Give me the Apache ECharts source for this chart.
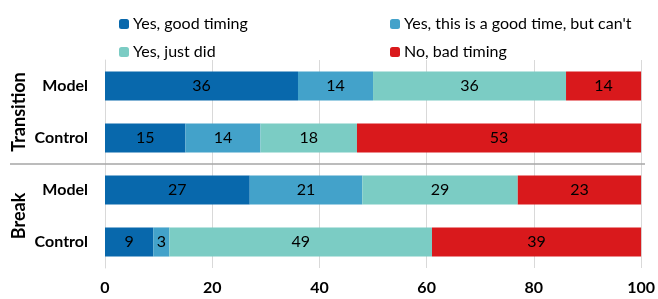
<!DOCTYPE html>
<html>
<head>
<meta charset="utf-8">
<script src="https://cdn.jsdelivr.net/npm/echarts@6/dist/echarts.min.js"></script>
<style>
  html, body { margin: 0; padding: 0; background: #fff; }
  #chart { width: 658px; height: 299px; }
</style>
</head>
<body>
<div id="chart"></div>
<script>
// rows top to bottom
const rows = ['Model', 'Control', 'Model', 'Control']
const groups = ['Transition', 'Break']
const seriesNames = ['Yes, good timing', "Yes, this is a good time, but can't", 'Yes, just did', 'No, bad timing']
const colors = ['#0868ac', '#43a2ca', '#7bccc4', '#d9191c']

// values per series, one per row
const goodTiming = [36, 15, 27, 9]
const goodButCant = [14, 14, 21, 3]
const justDid = [36, 18, 29, 49]
const badTiming = [14, 53, 23, 39]

const xTicks = [0, 20, 40, 60, 80, 100]

const font = 'Lato, "Open Sans", sans-serif'
const gridTop = 60
const gridHeight = 208

const chart = echarts.init(document.getElementById('chart'))

const values = [goodTiming, goodButCant, justDid, badTiming]

const option = {
  animation: false,
  textStyle: { fontFamily: font },
  legend: [
    {
      orient: 'vertical',
      left: 114, top: 11,
      itemWidth: 10, itemHeight: 10, itemGap: 12,
      data: [seriesNames[0], seriesNames[2]],
      textStyle: { fontSize: 16, color: '#000', fontFamily: font, padding: [0, 0, 0, -1] }
    },
    {
      orient: 'vertical',
      left: 385, top: 11,
      itemWidth: 10, itemHeight: 10, itemGap: 12,
      data: [seriesNames[1], seriesNames[3]],
      textStyle: { fontSize: 16, color: '#000', fontFamily: font, padding: [0, 0, 0, -1] }
    }
  ],
  grid: { left: 105, right: 15, top: gridTop, height: gridHeight },
  xAxis: {
    type: 'value',
    min: 0, max: 100, interval: 20,
    axisLine: { show: false },
    axisTick: { show: false },
    splitLine: { lineStyle: { color: '#d9d9d9', width: 1 } },
    axisLabel: {
      fontSize: 16, fontWeight: 'bold', color: '#000', margin: 12,
      formatter: v => xTicks.includes(v) ? String(v) : ''
    }
  },
  yAxis: [
    {
      type: 'category',
      inverse: true,
      data: rows,
      axisLine: { show: true, lineStyle: { color: '#d9d9d9' } },
      axisTick: { show: false },
      axisLabel: { fontSize: 16, fontWeight: 'bold', color: '#000', margin: 17 }
    },
    {
      type: 'category',
      inverse: true,
      position: 'left',
      data: groups,
      axisLine: { show: false },
      axisTick: { show: false },
      axisLabel: { fontSize: 18, fontWeight: 'bold', color: '#000', rotate: 90, margin: 77 }
    }
  ],
  series: seriesNames.map((name, i) => ({
    name,
    type: 'bar',
    stack: 'total',
    yAxisIndex: 0,
    barCategoryGap: '44%',
    itemStyle: { color: colors[i] },
    label: { show: true, position: 'inside', color: '#000', fontSize: 16, fontFamily: font },
    data: values[i]
  })),
  graphic: [
    {
      type: 'line',
      shape: { x1: 10, y1: gridTop + gridHeight / 2, x2: 645, y2: gridTop + gridHeight / 2 },
      style: { stroke: '#a6a6a6', lineWidth: 1.3 },
      z: 10
    }
  ]
}

chart.setOption(option)
</script>
</body>
</html>
